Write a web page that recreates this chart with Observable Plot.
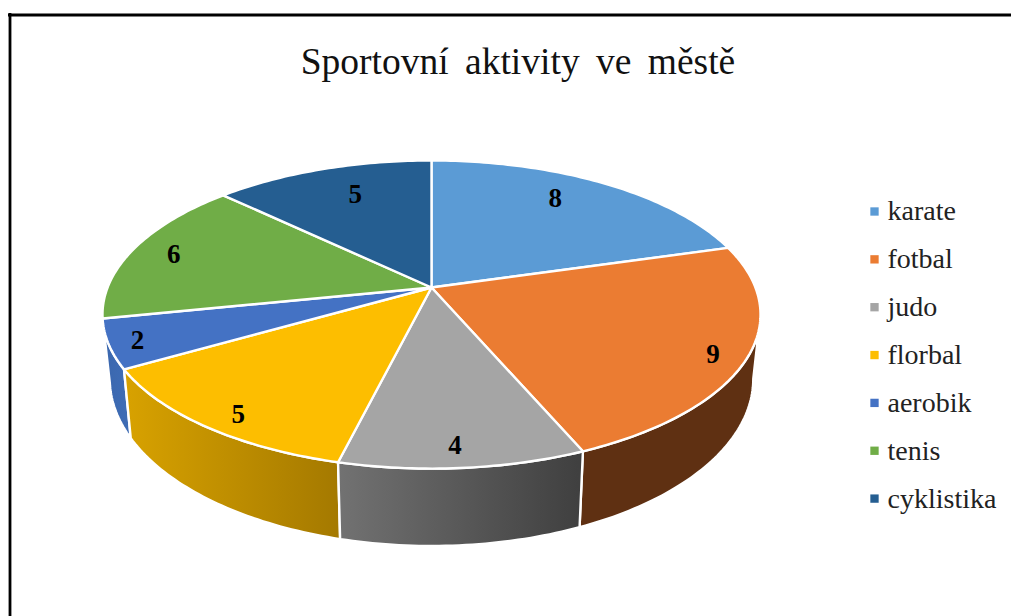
<!DOCTYPE html>
<html lang="cs">
<head>
<meta charset="utf-8">
<style>
  html, body { margin: 0; padding: 0; background: #fff; overflow: hidden; }
  svg { display: block; }
  .chart-title text { word-spacing: 7px; }
</style>
<script src="https://cdn.jsdelivr.net/npm/d3@7"></script>
<script src="https://cdn.jsdelivr.net/npm/@observablehq/plot@0.6"></script>
</head>
<body>
<div id="chart"></div>
<script>
// --- data ---
const titleText = "Sportovní aktivity ve městě";
const categories = ["karate", "fotbal", "judo", "florbal", "aerobik", "tenis", "cyklistika"];
const values = [8, 9, 4, 5, 2, 6, 5];

// --- styles ---
const colors = ["#5B9BD5", "#EB7C32", "#A5A5A5", "#FDBE00", "#4472C4", "#70AD47", "#255E91"];
const serif = "'Liberation Serif', 'Times New Roman', serif";

// --- layout: perspective disc ---
const W = 1011, H = 616;
const hub = {x: 431, y: 287};
const persp = 0.1755, radiusX = 323.9, radiusY = 149.3;
const wall = {scaleX: 0.978, scaleY: 1.085, hubY: 349};
// how far each value label sits inward from the rim at its slice's middle
const labelInsetX = [47, 35, 8, -33, -29, -39, -33];
const labelInsetY = [-16, 2, 23, 12, 4, -6, -25];

// project an angle (degrees clockwise from the back of the disc) onto the top rim
function rim(deg) {
  const a = deg * Math.PI / 180, u = Math.sin(a), v = -Math.cos(a), d = 1 - persp * v;
  return {x: hub.x + radiusX * u / d, y: hub.y + radiusY * v / d};
}
function rimLow(deg) {
  const p = rim(deg);
  return {x: hub.x + (p.x - hub.x) * wall.scaleX, y: wall.hubY + (p.y - hub.y) * wall.scaleY};
}
function sweep(a0, a1, f) {
  const n = Math.max(2, Math.ceil(Math.abs(a1 - a0))), out = [];
  for (let i = 0; i <= n; ++i) out.push(f(a0 + (a1 - a0) * i / n));
  return out;
}

// slice angles come from the values
const total = d3.sum(values);
const cum = d3.cumsum(values);
const slices = categories.map((name, i) => ({
  name, value: values[i],
  a0: (i ? cum[i - 1] : 0) / total * 360,
  a1: cum[i] / total * 360
}));

const topRows = slices.flatMap(s =>
  [{...hub}, ...sweep(s.a0, s.a1, rim), {...hub}].map(p => ({...p, name: s.name})));

// outer walls, only where the rim faces the viewer
const silhouette = Math.acos(-persp) * 180 / Math.PI; // where the disc is widest
function wallRows(i) {
  const s = slices[i];
  const a0 = Math.max(s.a0, silhouette), a1 = Math.min(s.a1, 360 - silhouette);
  return [...sweep(a0, a1, rim), ...sweep(a1, a0, rimLow), rim(a0)];
}
const walls = [
  {i: 4, fill: "url(#wall-aerobik)"},
  {i: 3, fill: "url(#wall-florbal)"},
  {i: 1, fill: "#5F3012"},
  {i: 2, fill: "url(#wall-judo)"}
];

const labelRows = slices.map((s, i) => {
  const p = rim((s.a0 + s.a1) / 2);
  return {x: p.x - labelInsetX[i], y: p.y - labelInsetY[i], value: s.value};
});

// legend layout
const legendX = 874, legendTextX = 887, legendTop = 211, legendStep = 47.85;
const legendRows = categories.map((name, i) => ({name, y: legendTop + i * legendStep}));

function gradient(defs, id, from, to) {
  const g = defs.append("linearGradient").attr("id", id);
  g.append("stop").attr("offset", "0").attr("stop-color", from);
  g.append("stop").attr("offset", "1").attr("stop-color", to);
}

const chart = Plot.plot({
  width: W, height: H,
  margin: 0,
  style: {background: "#fff"},
  x: {domain: [0, W], range: [0, W], axis: null},
  y: {domain: [0, H], range: [0, H], axis: null},
  color: {domain: categories, range: colors},
  marks: [
    () => {
      const defs = d3.create("svg:defs");
      gradient(defs, "wall-aerobik", "#3A67AE", "#3F6DB6");
      gradient(defs, "wall-florbal", "#D8A200", "#A47900");
      gradient(defs, "wall-judo", "#727272", "#3F3F3F");
      return defs.node();
    },
    // frame of the picture: top and left edges
    Plot.ruleY([14.5], {x1: 8, x2: W, stroke: "#000", strokeWidth: 2.8}),
    Plot.ruleX([9.5], {y1: 13, y2: H, stroke: "#000", strokeWidth: 2.8}),
    // walls
    ...walls.map(w => Plot.line(wallRows(w.i), {
      x: "x", y: "y", fill: w.fill, stroke: "#fff", strokeWidth: 2.4, strokeLinejoin: "round"
    })),
    // top of the disc
    Plot.line(topRows, {
      x: "x", y: "y", z: "name", fill: "name",
      stroke: "#fff", strokeWidth: 2.4, strokeLinejoin: "round"
    }),
    // value labels
    Plot.text(labelRows, {
      x: "x", y: "y", text: "value", fill: "#000",
      fontFamily: serif, fontWeight: "bold", fontSize: 27, lineAnchor: "middle"
    }),
    // title
    Plot.text([titleText], {
      x: 517.5, y: 61, text: d => d, fill: "#111",
      fontFamily: serif, fontSize: 37.5, lineAnchor: "middle", className: "chart-title"
    }),
    // legend
    Plot.dot(legendRows, {
      x: legendX, y: "y", fill: "name", symbol: "square", r: 4.7, stroke: "none"
    }),
    Plot.text(legendRows, {
      x: legendTextX, y: "y", text: "name", fill: "#222", textAnchor: "start",
      fontFamily: serif, fontSize: 28, lineAnchor: "middle"
    })
  ]
});
document.getElementById("chart").append(chart);
</script>
</body>
</html>
